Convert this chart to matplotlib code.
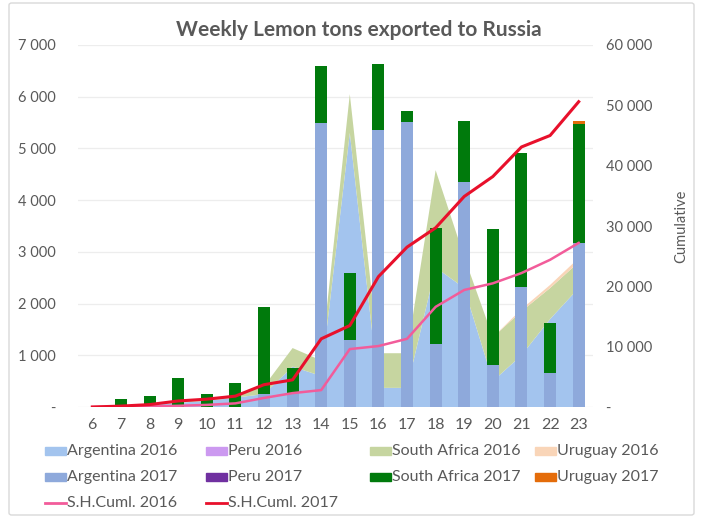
import matplotlib
matplotlib.use("Agg")
import matplotlib.pyplot as plt
import matplotlib.ticker as mticker
from matplotlib.patches import Rectangle, FancyBboxPatch
from matplotlib.lines import Line2D

plt.rcParams["font.family"] = ["Lato", "DejaVu Sans"]

# ── Data (tons per week) ──────────────────────────────────────────────────────
weeks = [6, 7, 8, 9, 10, 11, 12, 13, 14, 15, 16, 17, 18, 19, 20, 21, 22, 23]

argentina_2016 = [0, 20, 40, 80, 120, 180, 250, 780, 600, 5300, 370, 370, 2700, 2300, 500, 1000, 1700, 2300]
peru_2016 = [0] * 18
south_africa_2016 = [0, 0, 10, 20, 30, 60, 150, 360, 300, 750, 670, 670, 1880, 600, 850, 850, 600, 500]
uruguay_2016 = [0, 0, 0, 0, 0, 0, 0, 0, 0, 0, 0, 0, 0, 0, 0, 40, 60, 80]

argentina_2017 = [0, 0, 0, 0, 0, 0, 250, 270, 5500, 1300, 5360, 5510, 1220, 4350, 810, 2320, 660, 3170]
peru_2017 = [0] * 18
south_africa_2017 = [0, 150, 210, 560, 250, 460, 1680, 480, 1100, 1290, 1270, 220, 2240, 1180, 2630, 2590, 960, 2300]
uruguay_2017 = [0, 0, 0, 0, 0, 0, 0, 0, 0, 0, 0, 0, 0, 0, 0, 0, 0, 60]

cuml_2016 = [0, 50, 100, 200, 350, 600, 1500, 2300, 2800, 9600, 10100, 11300, 16600, 19400, 20500, 22200, 24400, 27200]
cuml_2017 = [0, 150, 400, 1000, 1300, 1800, 3700, 4500, 11300, 13500, 21600, 26500, 29700, 34900, 38200, 43100, 45000, 50600]

# ── Colours ───────────────────────────────────────────────────────────────────
c_arg16, c_peru16, c_sa16, c_uru16 = "#A3C4EE", "#CC99F0", "#C6D5A0", "#F9D5B8"
c_arg17, c_peru17, c_sa17, c_uru17 = "#8EA9DB", "#7030A0", "#007A0C", "#E46C0A"
c_cum16, c_cum17 = "#F25C9A", "#E8102B"
text_grey = "#595959"

fig = plt.figure(figsize=(7.02, 5.19), dpi=100)
fig.patches.append(FancyBboxPatch((9 / 702, 4 / 519), 685 / 702, 512 / 519,
                                  boxstyle="round,pad=0,rounding_size=0.004",
                                  transform=fig.transFigure, fill=False,
                                  edgecolor="#D9D9D9", linewidth=1))

ax = fig.add_axes([78 / 702, 112 / 519, 515 / 702, 362 / 519])
x = list(range(len(weeks)))

# 2016 as stacked areas
ax.stackplot(x, argentina_2016, peru_2016, south_africa_2016, uruguay_2016,
             colors=[c_arg16, c_peru16, c_sa16, c_uru16], linewidth=0, zorder=2)

# 2017 as stacked bars
bottom = [0] * len(weeks)
for vals, col in [(argentina_2017, c_arg17), (peru_2017, c_peru17),
                  (south_africa_2017, c_sa17), (uruguay_2017, c_uru17)]:
    ax.bar(x, vals, width=0.42, bottom=bottom, color=col, linewidth=0, zorder=3)
    bottom = [b + v for b, v in zip(bottom, vals)]

ax.set_xlim(-0.5, len(weeks) - 0.5)
ax.set_ylim(0, 7000)
ax.set_yticks(range(0, 7001, 1000))
ax.set_xticks(x)
ax.set_xticklabels([str(w) for w in weeks])


def thousands(v, pos):
    if v == 0:
        return "-"
    return f"{v:,.0f}".replace(",", " ")


ax.yaxis.set_major_formatter(mticker.FuncFormatter(thousands))
ax.grid(axis="y", color="#EDEDED", linewidth=0.9, zorder=0)
ax.set_axisbelow(True)
for s in ax.spines.values():
    s.set_visible(False)
ax.tick_params(axis="both", length=0, colors=text_grey, labelsize=10.5)
ax.tick_params(axis="x", pad=8, labelsize=11.5)
ax.tick_params(axis="y", pad=16)

# cumulative on secondary axis
ax2 = ax.twinx()
ax2.plot(x, cuml_2016, color=c_cum16, linewidth=1.8, zorder=4)
ax2.plot(x, cuml_2017, color=c_cum17, linewidth=2.2, zorder=5)
ax2.set_ylim(0, 60000)
ax2.set_yticks(range(0, 60001, 10000))
ax2.yaxis.set_major_formatter(mticker.FuncFormatter(thousands))
for s in ax2.spines.values():
    s.set_visible(False)
ax2.tick_params(axis="y", length=0, colors=text_grey, labelsize=10.5, pad=9)
ax2.set_ylabel("Cumulative", color=text_grey, fontsize=10.5, labelpad=16)

fig.text(359 / 702, 1 - 30 / 519, "Weekly Lemon tons exported to Russia",
         ha="center", va="center", fontsize=15, fontweight="bold", color=text_grey)

# ── Legend laid out like the spreadsheet one ─────────────────────────────────
legend_rows = [
    [("Argentina 2016", c_arg16, "patch"), ("Peru 2016", c_peru16, "patch"),
     ("South Africa 2016", c_sa16, "patch"), ("Uruguay 2016", c_uru16, "patch")],
    [("Argentina 2017", c_arg17, "patch"), ("Peru 2017", c_peru17, "patch"),
     ("South Africa 2017", c_sa17, "patch"), ("Uruguay 2017", c_uru17, "patch")],
    [("S.H.Cuml. 2016", c_cum16, "line"), ("S.H.Cuml. 2017", c_cum17, "line")],
]
col_x = [45, 206, 370, 535]
row_y = [451, 477, 503]
W, H = 702, 519
for r, row in enumerate(legend_rows):
    for c, (label, col, kind) in enumerate(row):
        x0, yc = col_x[c], row_y[r]
        if kind == "patch":
            fig.patches.append(Rectangle((x0 / W, 1 - (yc + 4) / H), 21 / W, 8 / H,
                                         transform=fig.transFigure, color=col))
        else:
            fig.lines.append(Line2D([x0 / W, (x0 + 21) / W], [1 - yc / H, 1 - yc / H],
                                    transform=fig.transFigure, color=col, linewidth=2))
        fig.text((x0 + 22) / W, 1 - yc / H, label, ha="left", va="center",
                 fontsize=11.5, color=text_grey)

fig.savefig("out.png", dpi=100)
